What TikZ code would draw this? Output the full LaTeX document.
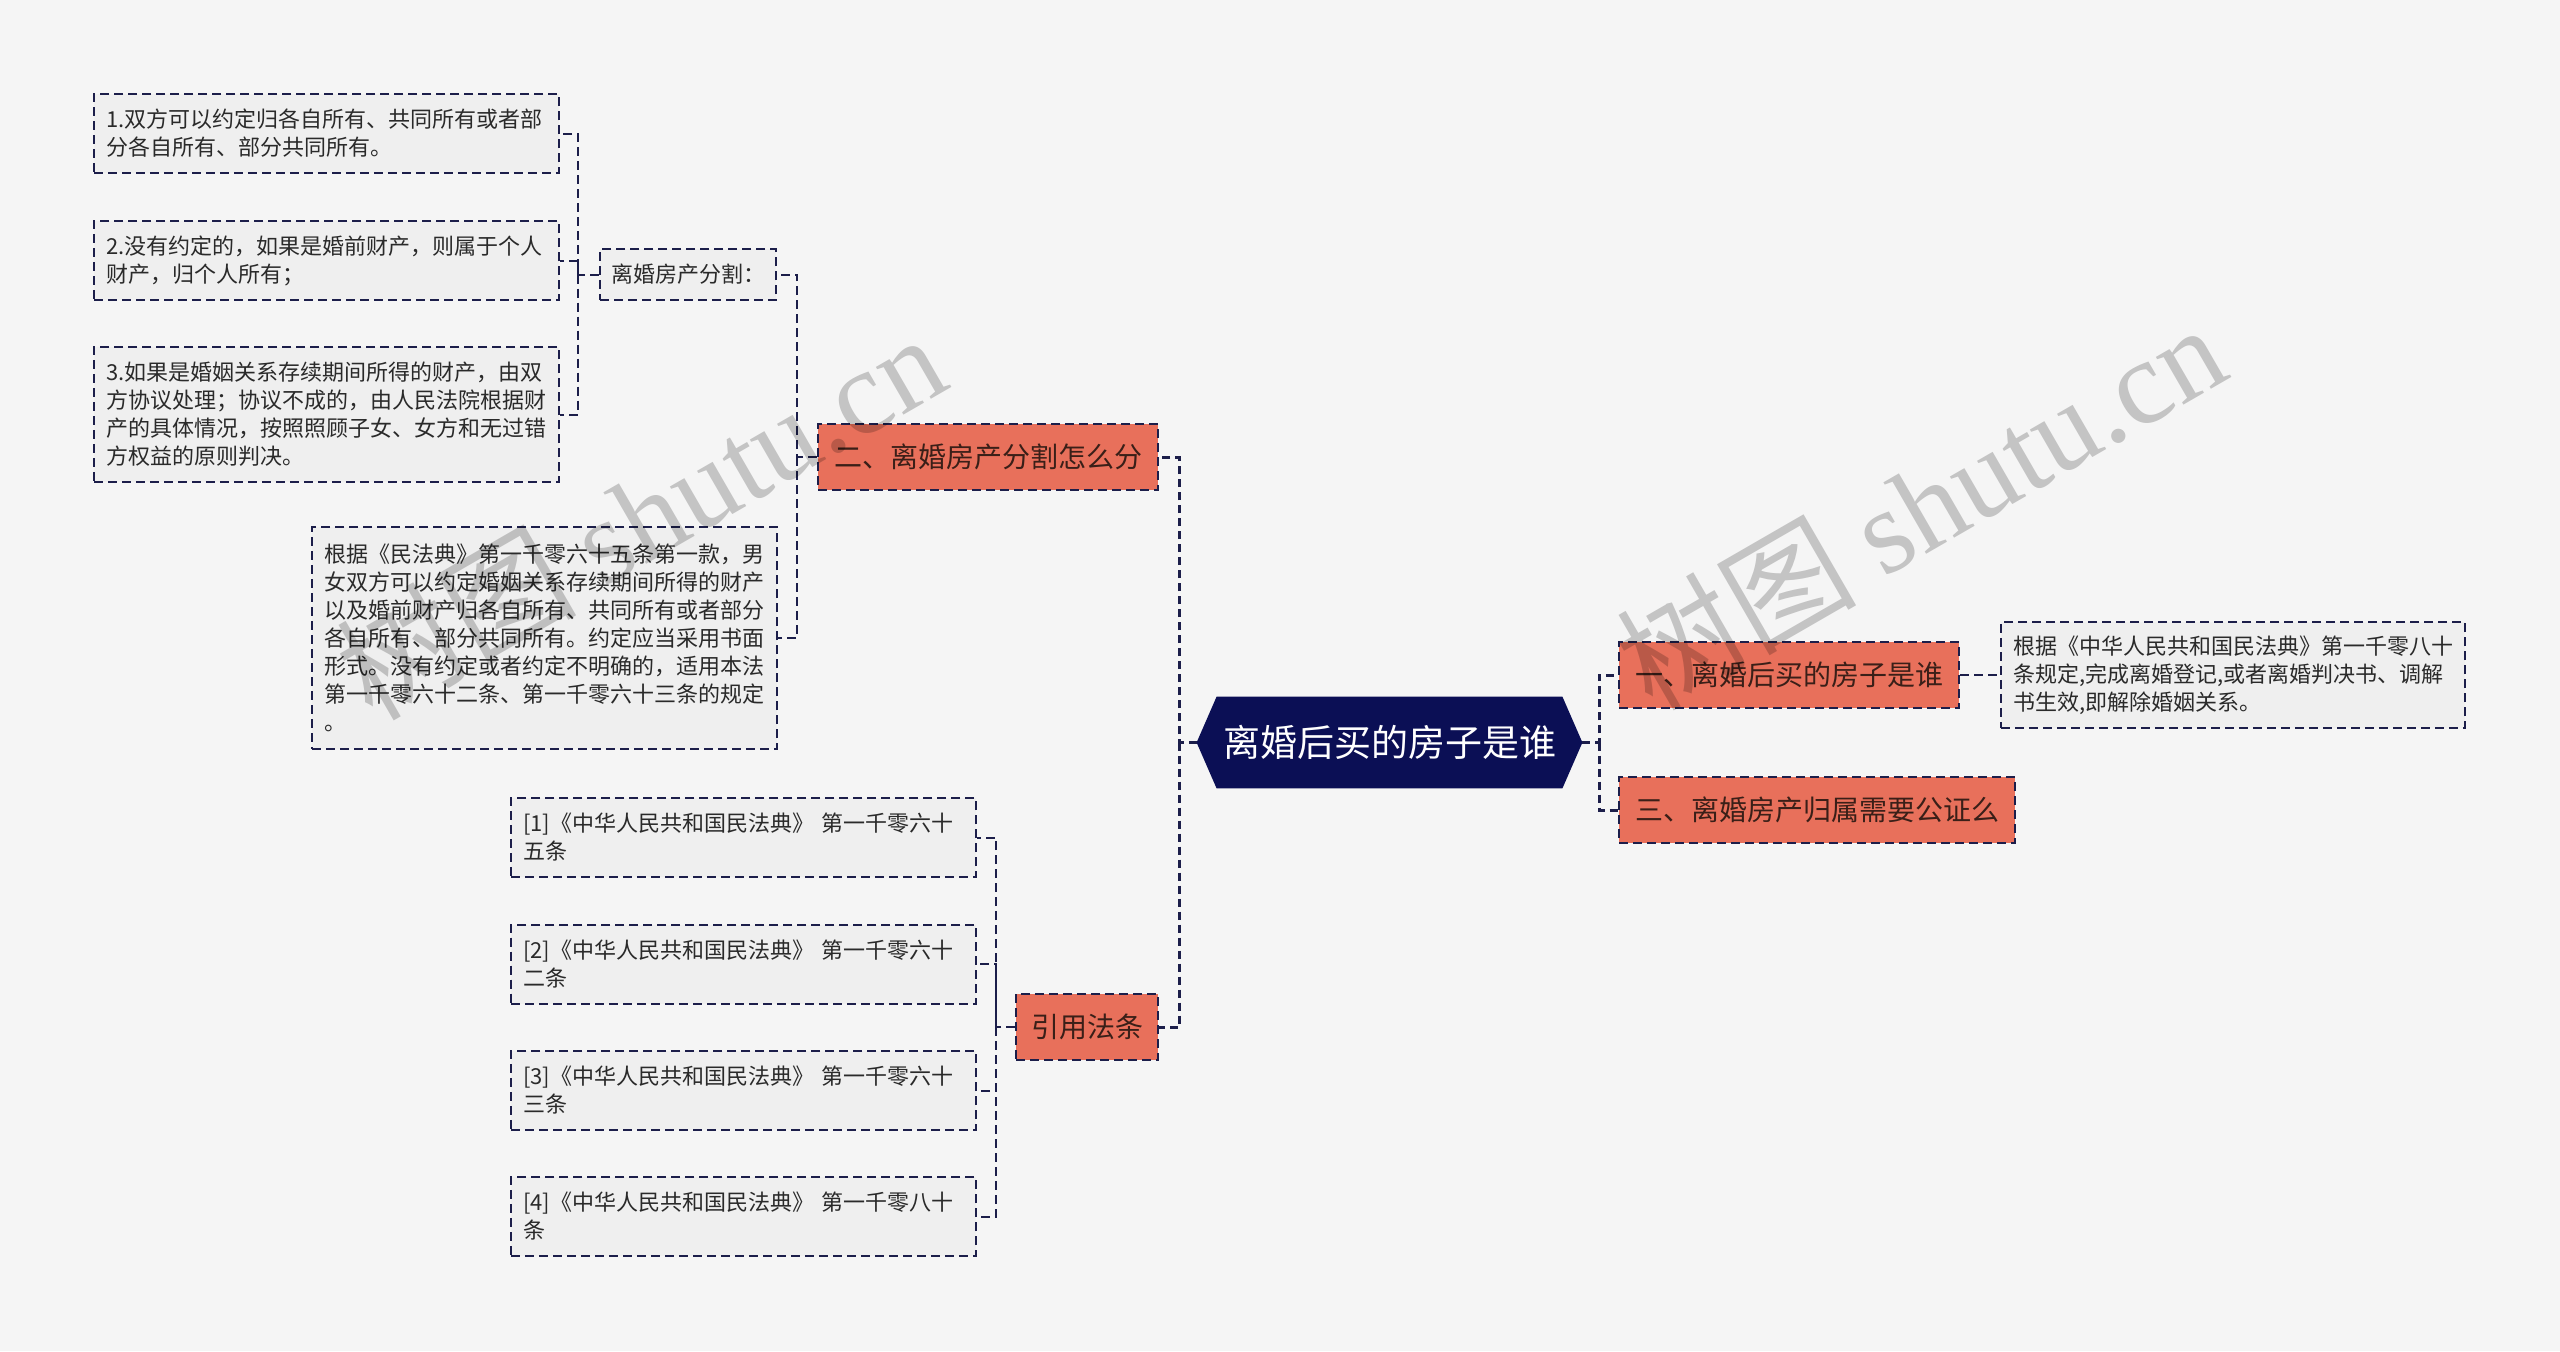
\documentclass[tikz,border=0pt]{standalone}
\usepackage{fontspec}
\setmainfont{Noto Sans CJK SC}
\newfontfamily\wmserif{Liberation Serif}
\usetikzlibrary{calc}
\definecolor{bgc}{HTML}{F5F5F5}
\definecolor{leaffill}{HTML}{EFEFEF}
\definecolor{lc}{HTML}{1C1E4A}
\definecolor{oc}{HTML}{E8705B}
\definecolor{otc}{HTML}{3A1F18}
\definecolor{tc}{HTML}{2A2A2A}
\definecolor{rootc}{HTML}{0B0F55}
\begin{document}
\begin{tikzpicture}[x=0.5pt,y=-0.5pt,
  dsh/.style={dash pattern=on 4.5pt off 2.5pt, line width=1pt, draw=lc},
  leaf/.style={dsh, fill=leaffill, text=tc, font=\fontsize{11pt}{14pt}\selectfont,
    align=left, text width=220.5pt, inner xsep=6pt, inner ysep=0pt},
  obox/.style={dsh, fill=oc, text=otc, font=\fontsize{14pt}{17pt}\selectfont,
    minimum height=33pt, inner sep=0pt},
  conn/.style={dash pattern=on 4.5pt off 2.5pt, line width=1pt, draw=lc},
  mainconn/.style={dash pattern=on 4pt off 2.5pt, line width=1.5pt, draw=lc},
  wm/.style={rotate=30, text=black, opacity=0.2, font=\fontsize{60pt}{60pt}\selectfont, inner sep=0pt}
]
\clip (0,0) rectangle (2560,1351);
\fill[bgc] (0,0) rectangle (2560,1351);
\useasboundingbox (0,0) rectangle (2560,1351);

% root
\node[minimum width=192.5pt, minimum height=45.5pt, inner sep=0pt] (root) at (1389.5,742.5) {};
\fill[rootc] (root.west) -- ([xshift=10pt]root.north west) -- ([xshift=-10pt]root.north east)
  -- (root.east) -- ([xshift=-10pt]root.south east) -- ([xshift=10pt]root.south west) -- cycle;
\node[text=white, font=\fontsize{18.5pt}{22pt}\selectfont] at (root.center) {离婚后买的房子是谁};

% level 1
\node[obox, minimum width=170pt] (n1) at (1789,675) {一、离婚后买的房子是谁};
\node[obox, minimum width=198pt] (n3) at (1817,810) {三、离婚房产归属需要公证么};
\node[obox, minimum width=170pt] (n2) at (988,457) {二、离婚房产分割怎么分};
\node[obox, minimum width=71pt] (nref) at (1087,1027) {引用法条};

% right leaf
\node[leaf, text width=220pt, minimum height=53pt] (r1) at (2233,675)
  {根据《中华人民共和国民法典》第一千零八十\\条规定,完成离婚登记,或者离婚判决书、调解\\书生效,即解除婚姻关系。};

% left branch of 二
\node[dsh, fill=leaffill, text=tc, font=\fontsize{11pt}{14pt}\selectfont,
  minimum width=88pt, minimum height=25.5pt, inner sep=0pt] (fenge) at (688,274.5) {离婚房产分割：};
\node[leaf, minimum height=111pt] (para) at (544.5,638)
  {根据《民法典》第一千零六十五条第一款，男\\女双方可以约定婚姻关系存续期间所得的财产\\以及婚前财产归各自所有、共同所有或者部分\\各自所有、部分共同所有。约定应当采用书面\\形式。没有约定或者约定不明确的，适用本法\\第一千零六十二条、第一千零六十三条的规定\\。};
\node[leaf, minimum height=39.5pt] (l1) at (326.5,133.5)
  {1.双方可以约定归各自所有、共同所有或者部\\分各自所有、部分共同所有。};
\node[leaf, minimum height=39.5pt] (l2) at (326.5,260.5)
  {2.没有约定的，如果是婚前财产，则属于个人\\财产，归个人所有；};
\node[leaf, minimum height=67.5pt] (l3) at (326.5,414.5)
  {3.如果是婚姻关系存续期间所得的财产，由双\\方协议处理；协议不成的，由人民法院根据财\\产的具体情况，按照照顾子女、女方和无过错\\方权益的原则判决。};

% refs
\node[leaf, minimum height=39.5pt] (f1) at (743.5,837.5) {[1]《中华人民共和国民法典》~第一千零六十\\五条};
\node[leaf, minimum height=39.5pt] (f2) at (743.5,964) {[2]《中华人民共和国民法典》~第一千零六十\\二条};
\node[leaf, minimum height=39.5pt] (f3) at (743.5,1090.5) {[3]《中华人民共和国民法典》~第一千零六十\\三条};
\node[leaf, minimum height=39.5pt] (f4) at (743.5,1216.5) {[4]《中华人民共和国民法典》~第一千零八十\\条};

% junctions
\coordinate (jL) at (1179,742.5);
\coordinate (jR) at (1599,742.5);
\coordinate (j2) at (797,457);
\coordinate (j3) at (578,274.5);
\coordinate (j4) at (996,1027);

% connectors
\draw[mainconn] (root.west) -- (jL) |- (n2.east);
\draw[mainconn] (jL) |- (nref.east);
\draw[mainconn] (root.east) -- (jR) |- (n1.west);
\draw[mainconn] (jR) |- (n3.west);
\draw[conn] (n1.east) -- (r1.west);
\draw[conn] (n2.west) -- (j2) |- (fenge.east);
\draw[conn] (j2) |- (para.east);
\draw[conn] (fenge.west) -- (j3) |- (l1.east);
\draw[conn] (j3) |- (l2.east);
\draw[conn] (j3) |- (l3.east);
\draw[conn] (nref.west) -- (j4) |- (f1.east);
\draw[conn] (j4) |- (f2.east);
\draw[conn] (j4) |- (f3.east);
\draw[conn] (j4) |- (f4.east);

% watermark
\node[wm] (wm1) at (640,515) {树图 {\wmserif shutu.cn}};
\node[wm] (wm2) at (1920,505) {树图 {\wmserif shutu.cn}};
\end{tikzpicture}
\end{document}
